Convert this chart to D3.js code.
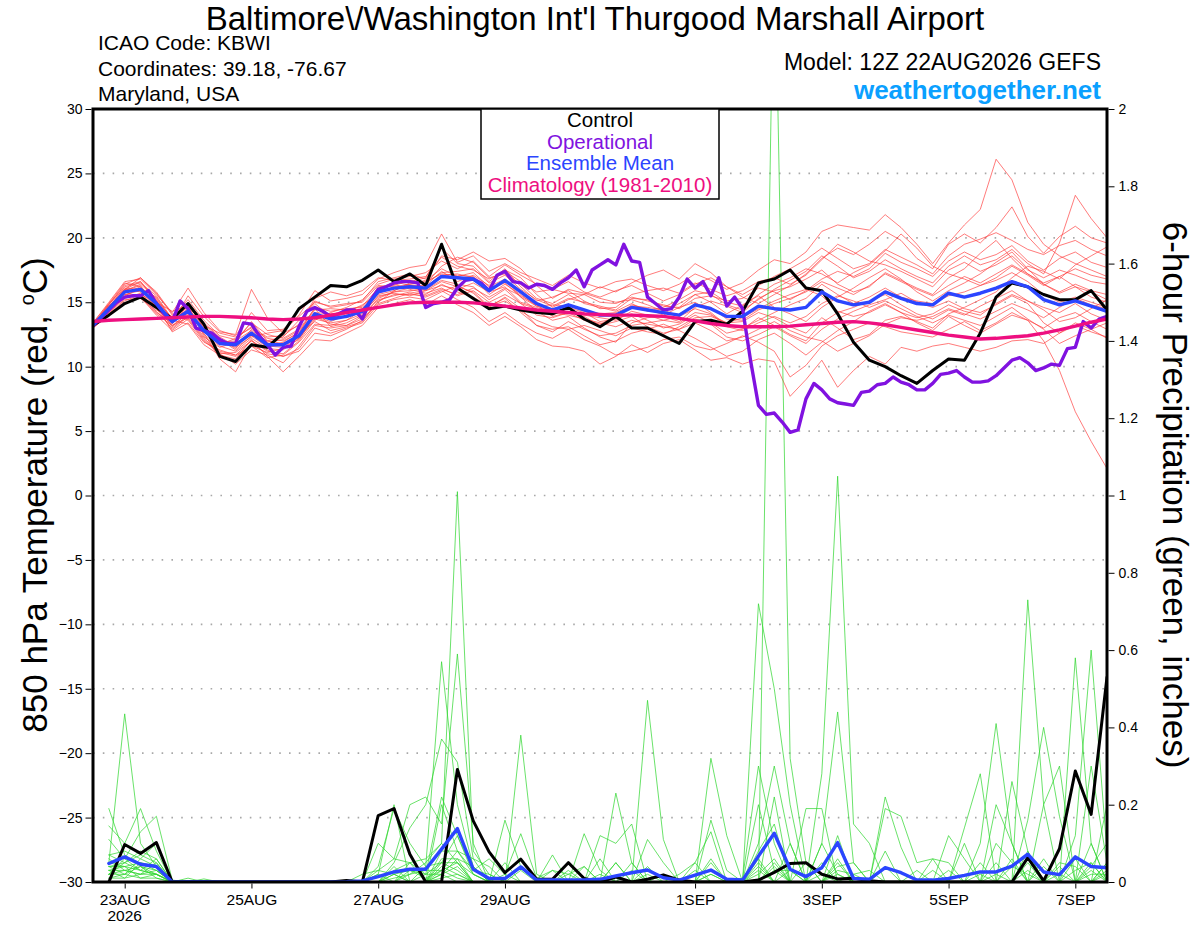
<!DOCTYPE html>
<html><head><meta charset="utf-8">
<script src="https://cdn.jsdelivr.net/npm/d3@7"></script>
<style>body{margin:0;background:#fff}svg{display:block;font-family:"Liberation Sans",Arial,Helvetica,sans-serif}</style>
</head><body><svg id="c" width="1200" height="927"></svg>
<script>
// ---------------- DATA ----------------
const xTickDates = ["2026-08-23","2026-08-25","2026-08-27","2026-08-29","2026-09-01","2026-09-03","2026-09-05","2026-09-07"];
const xTickLabels = ["23AUG","25AUG","27AUG","29AUG","1SEP","3SEP","5SEP","7SEP"];
const tempTicks = [-30,-25,-20,-15,-10,-5,0,5,10,15,20,25,30];
const precipTicks = [0,0.2,0.4,0.6,0.8,1,1.2,1.4,1.6,1.8,2];
const legendItems = ["Control","Operational","Ensemble Mean","Climatology (1981-2010)"];

// 850 hPa temperature, 6-hourly from 12Z 22AUG (65 steps)
const climTemp = [13.5,13.6,13.65,13.7,13.75,13.8,13.85,13.9,13.9,13.85,13.8,13.7,13.65,13.7,13.8,14.0,14.2,14.4,14.6,14.8,14.95,15.0,15.0,15.0,14.95,14.85,14.7,14.55,14.4,14.3,14.2,14.1,14.05,14.0,14.0,13.95,13.9,13.75,13.55,13.35,13.2,13.1,13.1,13.1,13.15,13.25,13.35,13.45,13.5,13.4,13.25,13.05,12.85,12.65,12.45,12.3,12.15,12.2,12.3,12.4,12.6,12.85,13.15,13.45,13.7];
const meanTemp = [13.2,14.5,15.8,16.0,14.9,13.5,14.3,12.8,11.8,11.7,12.6,11.7,11.7,12.4,14.1,13.7,13.9,14.3,15.8,16.1,16.2,16.1,17.0,16.9,16.8,15.9,16.7,15.8,14.9,14.4,14.8,14.4,14.0,14.0,14.6,14.4,14.2,14.0,14.8,14.5,13.9,13.9,14.7,14.5,14.4,14.6,15.8,15.1,14.8,15.0,15.8,15.3,14.9,14.8,15.7,15.4,15.7,16.1,16.6,16.2,15.2,14.8,15.1,14.7,14.3];
const ctrlTemp = [13.2,14.0,14.9,15.4,14.6,13.7,14.9,13.3,10.8,10.4,11.7,11.5,12.6,14.5,15.4,16.3,16.2,16.7,17.5,16.6,17.2,16.3,19.5,16.1,15.3,14.5,14.7,14.4,14.2,14.1,14.6,13.7,13.1,13.9,13.0,13.0,12.4,11.8,13.5,13.6,13.3,14.3,16.5,16.8,17.5,16.1,15.9,14.1,11.9,10.5,10.0,9.3,8.7,9.7,10.6,10.5,12.6,15.4,16.5,16.2,15.6,15.2,15.2,15.9,14.4];
// operational run, 3-hourly (129 steps)
const operTemp = [13.2,13.8,14.4,15.0,15.4,15.5,15.5,15.9,14.9,14.1,13.5,15.1,14.5,13.0,12.8,12.6,12.1,11.8,11.8,13.4,13.3,12.4,11.7,10.9,11.5,11.6,13.1,14.3,14.6,14.3,13.9,14.1,14.4,14.4,13.7,15.1,16.0,16.2,16.5,16.6,16.6,16.5,14.6,14.9,15.0,
15.2,16.1,16.7,16.8,16.5,15.9,17.1,17.4,16.6,16.5,16.1,16.4,16.3,16.0,16.5,16.9,17.5,16.2,17.5,17.9,18.3,17.9,19.5,18.2,18.1,15.4,14.9,14.4,14.5,15.4,16.8,16.1,16.6,15.5,16.9,14.7,15.4,14.5,10.5,7.0,6.3,
6.4,5.7,4.9,5.1,7.5,8.7,8.2,7.5,7.2,7.1,7.0,8.0,8.1,8.6,8.7,9.2,8.8,8.6,8.2,8.2,8.7,9.4,9.5,9.7,9.2,8.8,8.8,8.9,9.3,9.9,10.5,10.7,10.3,9.7,9.9,10.2,10.1,11.4,11.5,13.5,13.0,13.7,13.9];
// ensemble members (red)
const memberTemps = [
[13.2,14.8,16.3,16.6,15.2,13.3,14.8,12.4,11.2,10.9,12.0,11.2,11.0,12.0,13.6,14.2,14.6,15.2,16.4,16.8,17.0,17.3,18.2,17.6,18.2,17.0,17.9,17.1,16.4,16.0,16.6,15.8,15.4,15.9,16.3,15.7,15.1,15.6,16.4,16.9,16.2,15.6,16.3,17.0,17.6,18.3,19.2,18.4,17.6,18.0,19.1,18.5,17.9,17.2,18.6,19.5,19.9,20.4,19.8,19.1,18.7,19.4,19.8,19.1,18.6],
[13.3,14.2,15.4,15.6,14.4,13.9,15.2,13.6,12.4,12.1,13.4,12.5,12.2,12.9,14.5,13.1,13.4,14.0,15.2,15.5,15.8,15.6,16.4,15.8,15.4,14.7,15.3,14.2,13.2,12.9,13.1,12.4,11.7,12.0,12.6,12.9,13.3,12.8,12.2,11.5,10.8,11.2,12.1,12.6,11.8,10.9,11.9,12.8,13.5,14.3,14.9,14.2,13.4,12.8,13.9,13.2,12.6,13.3,14.0,13.6,13.0,13.8,14.2,13.5,12.9],
[13.1,14.6,16.0,16.9,15.8,14.1,13.6,12.0,11.0,10.2,11.3,10.9,10.3,11.6,13.2,13.0,13.2,13.7,15.0,15.9,16.4,16.7,17.6,17.0,17.3,16.2,16.8,15.4,14.3,13.6,13.9,13.0,12.3,11.9,13.4,13.8,13.9,13.5,14.6,15.1,14.7,14.2,15.3,15.9,16.2,16.8,17.5,16.4,15.8,16.2,17.3,16.7,16.1,15.6,16.9,17.6,18.8,19.8,18.4,17.2,16.5,17.0,16.2,15.4,15.0],
[13.2,14.9,16.5,16.2,14.5,12.9,13.9,13.2,12.6,12.3,13.0,12.3,12.4,13.3,15.1,14.6,14.8,15.1,16.6,16.9,17.2,16.8,18.6,18.3,18.9,18.2,18.4,17.6,16.3,15.3,16.0,15.7,15.3,15.0,15.2,14.8,14.3,14.9,15.6,15.0,14.1,14.8,15.5,14.6,14.1,13.5,14.6,15.4,16.1,16.9,17.6,16.8,15.8,15.1,15.9,16.5,17.2,18.1,18.9,17.6,16.4,15.7,16.2,15.8,15.2],
[13.0,14.1,15.2,15.3,14.3,13.0,14.0,12.3,11.5,11.9,13.5,12.0,11.8,12.2,13.7,13.4,13.6,14.4,16.0,16.4,16.0,15.7,16.1,15.5,15.9,15.0,15.6,14.9,14.5,14.0,14.6,14.2,13.5,13.7,14.1,13.6,13.0,13.3,14.0,13.4,12.6,12.9,13.8,13.2,12.5,12.0,13.4,14.2,14.6,15.1,15.6,14.8,14.1,13.7,14.4,14.0,14.7,15.3,15.9,15.1,14.6,14.2,14.9,14.1,13.6],
[13.4,15.0,16.6,16.8,15.6,14.2,16.1,14.2,12.8,12.4,14.2,12.8,12.9,14.0,15.9,15.1,15.3,15.6,16.8,17.3,17.7,17.9,20.3,18.1,18.6,17.4,18.0,17.3,16.8,16.3,17.1,16.5,16.1,16.6,16.8,16.3,15.9,16.4,17.2,16.7,16.0,16.5,17.5,18.3,18.0,18.9,20.5,21.0,20.8,20.6,21.8,20.8,19.5,18.0,19.6,21.0,22.2,26.1,24.5,21.2,19.5,18.6,18.0,17.5,17.0],
[13.2,14.4,15.6,15.9,15.1,13.8,14.6,12.6,10.6,9.6,11.8,11.0,10.8,11.2,12.6,12.4,12.9,13.6,14.9,15.3,15.7,15.4,15.9,15.2,14.6,13.5,14.2,13.3,12.6,12.2,12.9,12.1,11.6,10.9,11.2,11.5,12.1,12.3,11.6,11.3,11.8,12.4,11.9,11.2,9.2,10.1,11.6,12.4,12.9,13.4,13.1,12.7,12.5,12.3,12.9,13.5,12.8,13.4,14.2,13.6,12.0,9.7,6.5,4.2,2.1],
[13.1,14.7,15.9,16.3,14.6,13.2,14.1,12.9,12.1,11.3,12.4,11.5,11.9,12.7,14.2,14.1,14.2,14.8,15.6,15.9,16.5,16.6,17.2,17.1,17.0,16.0,16.5,15.4,14.7,14.3,14.5,14.0,13.8,13.6,14.3,14.0,13.6,13.4,14.2,14.0,13.4,13.5,14.2,13.8,13.1,12.6,13.8,13.0,12.1,12.5,13.6,13.9,13.5,13.0,14.1,14.6,15.2,15.8,16.9,17.8,17.4,16.8,17.9,18.6,19.3],
[13.3,14.3,15.5,16.1,15.4,13.6,13.3,11.7,10.9,10.6,12.1,10.8,9.6,10.8,12.1,12.0,12.6,13.2,14.6,14.9,15.2,14.8,15.5,14.8,14.2,13.2,13.9,13.1,12.1,11.6,11.5,11.2,10.2,10.8,11.7,11.1,11.8,12.1,11.3,10.5,10.7,10.2,10.6,10.4,7.7,9.0,10.5,8.4,9.7,10.8,10.2,11.5,11.2,11.6,11.8,11.5,11.2,11.5,12.0,12.1,11.8,12.6,13.4,12.9,12.2],
[13.2,14.5,16.0,15.8,14.2,13.4,15.5,13.9,12.7,12.5,16.0,13.8,12.6,13.2,15.3,15.8,15.5,15.9,16.9,16.7,16.8,17.0,18.5,17.8,17.5,16.8,17.4,16.6,15.8,16.0,15.7,15.6,15.0,14.9,15.4,15.1,14.8,14.5,15.3,15.5,15.1,15.3,16.1,15.8,15.2,15.9,16.8,17.4,17.0,17.6,18.8,18.1,17.6,17.0,18.2,18.9,18.3,18.7,19.4,18.2,17.5,18.4,18.9,18.1,17.7],
[13.0,14.0,15.1,15.6,15.0,14.3,14.7,13.3,12.2,11.4,12.9,12.2,12.0,12.6,14.6,14.3,14.5,14.6,15.9,16.6,16.3,16.3,17.4,16.6,17.1,16.3,17.5,16.9,15.6,14.6,15.2,15.6,16.2,15.8,16.5,17.1,17.5,16.8,18.0,17.3,16.2,15.4,14.9,15.6,16.3,17.2,18.4,19.2,18.7,19.5,20.5,19.8,18.4,17.6,19.5,20.3,19.6,20.8,22.4,20.1,18.8,20.1,20.9,20.0,19.6],
[13.2,14.6,16.2,16.5,15.5,13.7,14.4,12.5,11.6,11.2,12.2,11.4,11.3,12.2,13.9,13.5,14.0,14.2,15.4,15.8,15.9,16.0,16.7,16.4,16.2,15.2,16.0,14.9,14.0,13.8,14.2,13.6,13.3,13.9,14.8,14.5,14.0,14.6,15.0,14.2,13.2,13.0,13.6,14.2,14.8,15.3,16.4,15.6,14.9,15.4,16.1,15.4,15.1,14.9,15.5,15.8,16.3,16.7,17.3,16.6,15.6,15.0,15.4,15.0,14.6],
[13.4,14.9,16.1,16.0,14.8,12.7,13.4,11.9,11.3,10.9,11.6,10.7,10.9,11.9,13.3,13.2,13.6,14.1,15.5,15.7,15.5,15.9,16.6,16.2,15.8,14.7,15.1,14.3,13.6,13.1,12.9,13.2,12.8,12.4,13.0,12.7,12.5,13.1,13.8,13.9,13.4,13.8,14.5,15.1,15.6,16.0,15.5,14.3,13.9,14.2,14.8,14.2,13.8,14.1,14.8,14.3,14.0,14.9,15.6,15.1,14.4,13.5,13.8,14.5,15.2],
[13.1,14.4,15.7,16.2,14.9,13.5,14.9,13.0,11.9,12.0,12.8,12.0,12.3,13.6,14.9,13.9,13.8,14.3,16.2,16.3,16.7,16.4,17.8,18.5,18.1,16.9,17.2,16.4,15.3,14.9,15.6,14.9,14.6,14.3,14.9,14.3,14.6,15.2,15.9,15.6,14.8,14.4,15.2,16.0,16.7,17.4,18.6,17.8,16.9,17.4,18.3,17.6,17.0,16.5,17.8,18.6,17.9,18.3,19.1,18.0,17.2,19.6,23.3,21.5,20.0],
[13.2,14.2,15.3,15.7,14.7,13.1,14.2,12.7,11.7,12.2,13.1,11.6,11.5,12.1,13.9,13.3,13.2,13.9,15.3,15.8,16.1,15.9,16.3,16.0,16.5,15.8,16.2,15.0,14.6,14.2,14.0,13.7,13.4,13.1,13.6,13.3,13.1,12.9,13.7,13.3,12.3,12.0,12.5,13.1,12.4,11.8,12.9,13.7,14.3,14.8,15.2,15.7,15.0,14.6,15.1,14.5,14.2,14.8,15.5,14.9,13.4,12.6,13.2,12.7,12.3],
[13.3,14.8,16.4,16.9,15.7,14.0,15.0,13.4,12.3,11.6,12.7,11.9,12.1,12.8,14.4,14.5,14.4,14.7,16.1,16.5,16.6,16.9,19.2,18.0,17.8,16.6,17.6,16.2,15.1,15.4,15.9,15.1,14.5,14.6,15.6,15.9,16.1,15.7,16.5,16.0,15.5,15.9,16.6,16.9,16.4,17.1,18.3,19.5,18.9,18.2,17.9,17.4,16.8,16.2,17.5,18.1,17.4,17.9,18.6,17.5,16.9,17.5,17.1,16.6,16.4],
[13.2,14.3,15.6,15.5,14.1,13.2,13.8,12.2,11.1,10.8,11.6,11.1,11.4,12.5,13.5,12.8,13.1,13.5,15.1,15.6,15.6,15.5,16.0,15.6,16.1,15.4,16.1,15.5,14.8,13.9,14.2,13.9,13.2,13.5,13.9,13.1,12.6,12.9,13.4,12.8,12.0,12.3,12.9,13.5,12.8,12.3,12.0,11.2,11.8,12.4,13.3,13.8,13.6,13.9,14.5,14.1,13.7,14.3,14.9,14.4,13.8,14.6,15.3,14.8,14.5],
[13.1,14.6,15.9,16.4,15.3,13.6,14.5,13.1,12.0,11.5,12.3,12.6,12.8,13.9,15.0,14.7,14.9,15.0,16.3,16.2,16.4,16.5,17.3,17.4,17.6,16.5,17.1,16.0,15.2,14.7,15.3,15.0,14.7,14.4,15.3,15.2,14.7,14.6,15.6,15.8,15.0,14.7,15.6,16.4,16.9,17.6,17.2,16.5,17.3,17.9,19.0,20.3,19.2,17.8,17.2,16.8,16.3,16.9,17.8,17.1,16.3,17.0,17.6,17.1,16.8],
[13.2,14.5,15.8,15.4,14.0,12.8,13.7,12.1,11.0,11.1,12.0,11.3,10.8,11.4,13.0,12.6,13.0,13.4,14.8,15.2,15.4,15.2,15.8,16.3,15.7,14.6,15.4,14.5,13.2,12.7,13.5,12.9,12.4,12.6,13.2,13.4,13.6,13.9,14.5,14.1,13.1,12.8,13.4,13.9,13.4,13.9,14.9,15.5,15.1,14.6,15.1,14.5,13.9,13.4,14.0,13.6,13.2,13.9,14.6,13.7,12.9,11.8,12.4,12.9,13.4],
[13.3,14.7,16.0,16.6,15.1,13.4,14.3,12.8,11.8,11.8,12.5,11.6,11.8,12.5,14.0,13.8,14.1,14.5,15.7,16.1,16.3,16.2,17.1,17.2,16.9,15.6,16.4,15.6,14.7,14.8,14.7,14.3,14.1,14.2,14.7,14.6,14.4,13.9,14.9,14.6,13.7,13.6,14.4,14.9,15.3,15.8,16.6,16.1,15.6,16.3,17.2,16.6,16.0,15.5,16.3,17.0,16.5,17.2,17.9,17.2,16.4,15.8,16.4,15.9,15.6]
];

// 6-hour precipitation (inches), steps 1..64 (18Z 22AUG .. 12Z 7SEP)
const meanPrecip = [.048,.065,.046,.040,0,.001,.001,0, 0,0,0,0,0,0,0,.001, .003,.014,.026,.033,.033,.085,.138,.033, .009,.009,.039,.005,.005,.005,.005,.007, .016,.024,.031,.011,.005,.018,.031,.007, .005,.067,.126,.033,.014,.037,.102,.009, .007,.037,.024,.005,.005,.009,.017,.026, .026,.041,.072,.026,.019,.065,.040,.037];
const ctrlPrecip = [0,.097,.074,.102,0,0,0,0, 0,0,0,0,0,0,0,.004, 0,.172,.19,.072,0,0,.291,.158, .078,.024,.059,.007,.007,.05,.009,0, .013,0,.007,.018,.005,0,0,0, 0,.005,.025,.048,.05,.02,.008,.01, .003,0,0,0,0,0,0,0, 0,0,.063,.003,.086,.287,.175,.53];
const memberPrecips = [
[.05,.435,.1,.04,0,0,0,0, 0,0,0,0,0,0,0,0, 0,0,.03,.05,.06,.1,1.01,.08, .02,0,.03,0,0,0,0,0, .23,.05,0,0,0,0,.06,0, 0,.1,.3,.1,0,0,.12,0, 0,.08,0,0,0,0,0,.1, .41,.1,0,0,0,.12,.6,.08],
[.19,.07,.04,.02,0,0,0,0, 0,0,0,0,0,0,0,0, 0,.04,.19,.1,.04,.57,.2,.04, 0,.16,.04,0,0,0,.125,.03, 0,0,.11,.05,0,0,0,0, 0,.72,.5,.2,0,.1,.44,.05, 0,0,0,0,0,.12,.06,0, 0,0,.16,.4,.17,0,0,.2],
[.145,.1,.19,.08,0,0,0,0, 0,0,0,0,0,0,0,0, .02,.03,.06,.2,.22,.15,.59,.1, 0,0,0,0,.07,0,0,0, 0,0,.47,.11,0,0,.16,.03, 0,0,2.5,.32,.05,0,0,0, 0,.22,.09,0,0,0,0,0, 0,.26,.08,0,0,.58,.1,0],
[.11,.06,.13,.17,.005,0,0,0, 0,0,0,0,0,0,0,0, 0,0,.05,.14,.2,.37,.31,.06, .04,0,.38,.02,0,0,0,.12, .1,.15,0,0,0,0,.32,.12, 0,0,0,0,0,.28,1.05,.15, .1,0,0,0,0,0,.14,.28, 0,0,.73,.2,0,0,0,0],
[.07,.08,.06,.1,0,.01,0,0, 0,0,0,0,0,0,0,0, 0,.02,0,.03,.02,.22,.12,.03, .06,.02,.125,.01,.03,.02,.04,0, .05,0,.04,0,.02,.05,.13,0, .01,.3,.1,0,.19,.19,0,0, 0,.19,.17,.05,.06,.05,0,0, .2,.1,0,.2,.3,0,.1,0],
[.04,.05,.08,.06,0,0,.008,0, 0,0,0,0,0,0,0,.003, 0,.02,.2,0,0,.08,.08,.06, 0,0,0,0,0,.03,0,.06, 0,0,0,0,0,.03,0,0, 0,0,.22,0,0,0,.06,0, 0,0,0,0,.06,0,0,0, .05,0,0,0,0,0,.3,.05],
[.03,.04,.05,.04,0,0,0,0, 0,0,0,0,0,0,0,0, 0,0,.02,0,.04,.05,.12,.02, 0,.05,0,0,.03,0,0,0, 0,.05,0,0,0,0,0,0, 0,.08,.15,0,.05,0,.05,0, 0,0,0,.03,0,0,.1,0, 0,0,.08,0,0,.06,0,0],
[.06,.03,.02,.03,0,0,0,0, 0,0,0,0,0,0,0,0, 0,.1,.06,.05,.02,.05,.05,0, 0,0,0,0,0,0,0,0, 0,0,0,.02,0,0,0,0, 0,.02,.06,0,0,.1,.02,0, 0,.04,0,0,0,.03,0,0, .1,.05,0,0,.05,.04,0,.03],
[.02,.05,.03,.02,0,0,0,0, 0,0,0,0,0,0,0,0, 0,0,0,.02,.03,.03,.08,.03, .02,0,0,0,0,0,.04,0, .05,0,0,0,0,0,0,0, 0,0,.05,0,0,0,.04,.05, 0,0,0,0,0,0,0,.02, 0,.04,.02,0,0,0,.03,0],
[.04,.02,.04,.01,0,0,0,0, 0,0,0,0,0,0,0,0, 0,0,.04,0,0,.02,.06,.04, 0,0,0,0,0,0,0,0, 0,0,.02,0,0,0,.02,0, 0,.04,0,.1,0,.05,0,0, 0,0,0,0,0,0,0,0, 0,0,.05,0,.04,0,0,.05],
[.05,.04,.03,.06,0,0,0,0, 0,0,0,0,0,0,0,0, 0,.03,.02,.03,.01,.03,.05,.02, 0,0,0,0,0,0,0,0, 0,0,0,0,0,0,.02,0, 0,0,.03,.03,0,0,0,.02, .03,0,0,0,0,0,0,.05, 0,0,.03,0,0,0,.05,0],
[.02,.06,.03,.02,0,0,0,0, 0,0,0,0,0,0,0,0, 0,0,.02,0,0,.01,.02,0, 0,0,0,0,0,0,0,0, 0,0,0,0,0,0,0,0, 0,0,0,0,0,0,0,0, 0,0,0,0,0,0,0,0, 0,0,0,0,0,0,0,0],
[.03,.03,.02,.05,0,0,0,0, 0,0,0,0,0,0,0,0, 0,0,0,0,0,.05,.03,0, 0,0,0,0,0,0,0,0, 0,0,0,0,0,0,.05,0, 0,0,0,0,0,0,.03,.02, 0,0,0,0,0,0,0,0, .02,0,0,0,.02,0,0,0],
[.01,.02,.01,.02,0,0,0,0, 0,0,0,0,0,0,0,0, 0,0,0,0,.02,.02,.04,0, 0,0,0,0,0,.02,0,0, 0,0,0,0,0,0,0,0, 0,.05,0,0,0,0,.02,0, 0,0,0,0,.03,0,0,0, 0,0,0,.04,0,0,0,0],
[.03,.01,.05,.03,0,0,0,0, 0,0,0,0,0,0,0,0, 0,0,.01,.02,.05,.1,.05,0, 0,0,0,0,0,0,0,0, 0,0,0,0,0,.05,0,0, 0,0,0,.03,0,.02,0,0, 0,0,0,0,0,0,0,0, 0,.06,0,0,0,0,.02,.02],
[.07,.05,.07,.05,0,0,0,0, 0,0,0,0,0,0,0,0, 0,0,0,.05,0,.2,.08,.02, 0,.02,0,0,0,0,0,0, 0,0,0,0,0,0,0,0, 0,.2,.03,0,0,0,0,0, 0,0,0,0,0,0,0,0, 0,0,0,0,0,0,0,.02],
[.02,.03,.04,.03,0,0,0,0, 0,0,0,0,0,0,0,0, 0,0,0,0,0,.03,.01,0, 0,0,0,0,0,0,0,.02, 0,0,0,0,0,0,0,0, 0,0,.04,0,0,0,0,0, 0,0,0,0,0,0,0,0, 0,0,0,.06,0,0,0,0],
[.04,.04,.01,.01,0,0,0,0, 0,0,0,0,0,0,0,0, 0,0,0,0,0,.04,.02,0, 0,0,0,0,0,0,0,0, 0,.03,0,0,0,0,0,0, 0,0,0,0,0,0,0,0, 0,0,0,0,0,0,0,0, 0,0,0,0,0,.03,.05,0],
[.02,.02,.06,.04,0,0,0,0, 0,0,0,0,0,0,0,0, 0,0,0,0,0,.06,.06,0, 0,0,0,0,0,0,0,0, 0,0,0,0,0,0,0,0, 0,.06,0,0,0,0,0,0, 0,0,0,0,0,0,0,0, 0,0,0,0,0,0,.04,.1],
[.01,.01,.02,.02,0,0,0,0, 0,0,0,0,0,0,0,0, 0,0,0,0,0,.02,0,0, 0,0,0,0,0,0,0,0, 0,0,0,0,0,0,0,0, 0,.03,0,0,0,0,0,0, 0,0,0,0,0,0,0,0, 0,0,0,0,0,0,0,.05]
];

// ---------------- CHART ----------------
const W = 1200, H = 927;
const L = 93, R = 1107, T = 109, B = 882;
const HR = 3600000;
const t0 = Date.UTC(2026, 7, 22, 12);
const COL = {temp:"#ff3c3c", precip:"#2fd62f", ctrl:"#000000", oper:"#8012e0", mean:"#2b45ff", clim:"#ee0f80"};

const x = d3.scaleUtc().domain([new Date(t0), new Date(t0 + 384 * HR)]).range([L, R]);
const yT = d3.scaleLinear().domain([-30, 30]).range([B, T]);
const yP = d3.scaleLinear().domain([0, 2]).range([B, T]);

const svg = d3.select("#c");
svg.append("rect").attr("width", W).attr("height", H).attr("fill", "#fff");
svg.append("defs").append("clipPath").attr("id", "plot")
  .append("rect").attr("x", L).attr("y", T).attr("width", R - L).attr("height", B - T);

// grid
svg.append("g").selectAll("line").data(tempTicks.filter(d => d > -30 && d < 30)).join("line")
  .attr("x1", L).attr("x2", R).attr("y1", d => yT(d)).attr("y2", d => yT(d))
  .attr("stroke", "#a8a8a8").attr("stroke-width", 1.6).attr("stroke-dasharray", "1.6,8.2");

const lineT6 = d3.line().x((d, i) => x(new Date(t0 + 6 * HR * i))).y(d => yT(d));
const lineT3 = d3.line().x((d, i) => x(new Date(t0 + 3 * HR * i))).y(d => yT(d));
const lineP = d3.line().x((d, i) => x(new Date(t0 + 6 * HR * (i + 1)))).y(d => yP(d));

const g = svg.append("g").attr("clip-path", "url(#plot)").attr("fill", "none")
  .attr("stroke-linejoin", "round").attr("stroke-linecap", "round");

g.selectAll(".mt").data(memberTemps).join("path").attr("class", "mt")
  .attr("d", lineT6).attr("stroke", COL.temp).attr("stroke-width", 0.8).attr("stroke-opacity", 0.85);
g.selectAll(".mp").data(memberPrecips).join("path").attr("class", "mp")
  .attr("d", lineP).attr("stroke", COL.precip).attr("stroke-width", 0.8).attr("stroke-opacity", 0.9);

g.append("path").attr("d", lineT6(ctrlTemp)).attr("stroke", COL.ctrl).attr("stroke-width", 3);
g.append("path").attr("d", lineP(ctrlPrecip)).attr("stroke", COL.ctrl).attr("stroke-width", 3);
g.append("path").attr("d", lineT3(operTemp)).attr("stroke", COL.oper).attr("stroke-width", 3.4);
g.append("path").attr("d", lineT6(meanTemp)).attr("stroke", COL.mean).attr("stroke-width", 3.4);
g.append("path").attr("d", lineP(meanPrecip)).attr("stroke", COL.mean).attr("stroke-width", 3.4);
g.append("path").attr("d", lineT6(climTemp)).attr("stroke", COL.clim).attr("stroke-width", 3.4);

// frame
svg.append("rect").attr("x", L).attr("y", T).attr("width", R - L).attr("height", B - T)
  .attr("fill", "none").attr("stroke", "#000").attr("stroke-width", 3);

// axes
const axL = svg.append("g").attr("transform", `translate(${L - 1.5},0)`)
  .call(d3.axisLeft(yT).tickValues(tempTicks).tickSize(6).tickPadding(3));
const axR = svg.append("g").attr("transform", `translate(${R + 1.5},0)`)
  .call(d3.axisRight(yP).tickValues(precipTicks).tickSize(6).tickPadding(4)
    .tickFormat(d => String(+d.toFixed(1))));
const axB = svg.append("g").attr("transform", `translate(0,${B + 1.5})`)
  .call(d3.axisBottom(x).tickValues(xTickDates.map(s => new Date(s + "T00:00:00Z")))
    .tickSize(5).tickPadding(5).tickFormat((d, i) => xTickLabels[i]));
[axL, axR, axB].forEach(a => {
  a.select(".domain").remove();
  a.selectAll("line").attr("stroke", "#000").attr("stroke-width", 1);
  a.selectAll("text").attr("fill", "#000").style("font-family", "Liberation Sans, Arial, sans-serif");
});
axL.selectAll("text").style("font-size", "14px");
axR.selectAll("text").style("font-size", "14px");
axB.selectAll("text").style("font-size", "15.5px");
svg.append("text").attr("x", x(new Date(xTickDates[0] + "T00:00:00Z"))).attr("y", 921)
  .attr("text-anchor", "middle").style("font-size", "15.5px").text("2026");

// legend
svg.append("rect").attr("x", 481).attr("y", T).attr("width", 238).attr("height", 90)
  .attr("fill", "#fff").attr("stroke", "#000").attr("stroke-width", 1.5);
const legCols = [COL.ctrl, COL.oper, COL.mean, COL.clim];
svg.append("g").selectAll("text").data(legendItems).join("text")
  .attr("x", 600).attr("y", (d, i) => 127 + i * 21.5).attr("text-anchor", "middle")
  .style("font-size", "20.5px").attr("fill", (d, i) => legCols[i]).text(d => d);

// titles
svg.append("text").attr("x", 595).attr("y", 30).attr("text-anchor", "middle")
  .style("font-size", "33px").text("Baltimore\\/Washington Int'l Thurgood Marshall Airport");
const hdr = ["ICAO Code: KBWI", "Coordinates: 39.18, -76.67", "Maryland, USA"];
svg.append("g").selectAll("text").data(hdr).join("text")
  .attr("x", 98).attr("y", (d, i) => 50 + i * 25.5).style("font-size", "21px").text(d => d);
svg.append("text").attr("x", 1101).attr("y", 70).attr("text-anchor", "end")
  .style("font-size", "23px").text("Model: 12Z 22AUG2026 GEFS");
svg.append("text").attr("x", 1101).attr("y", 99).attr("text-anchor", "end")
  .style("font-size", "26px").style("font-weight", "bold").attr("fill", "#0aa0ff").text("weathertogether.net");

const lt = svg.append("text").attr("transform", "translate(47,495) rotate(-90)")
  .attr("text-anchor", "middle").style("font-size", "35px");
lt.append("tspan").text("850 hPa Temperature (red, ");
lt.append("tspan").attr("dy", -13).style("font-size", "20px").text("o");
lt.append("tspan").attr("dy", 13).text("C)");
svg.append("text").attr("transform", "translate(1163,495) rotate(90)")
  .attr("text-anchor", "middle").style("font-size", "35px")
  .text("6-hour Precipitation (green, inches)");
</script>
</body></html>
